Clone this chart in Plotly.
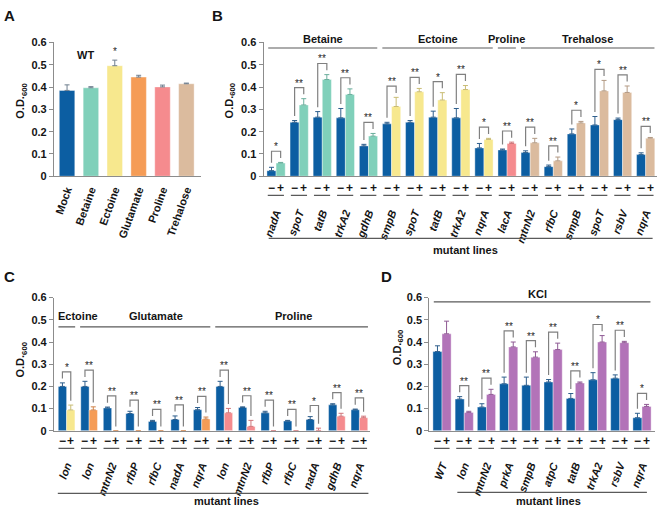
import plotly.graph_objects as go

FIG_W, FIG_H = 660, 513
FONT = "Liberation Sans, Arial, Helvetica, sans-serif"

# ---------------- data ----------------
# Panel A (WT)
a_categories = ["Mock", "Betaine", "Ectoine", "Glutamate", "Proline", "Trehalose"]
a_values = [0.385, 0.397, 0.496, 0.445, 0.401, 0.415]
a_errors = [0.025, 0.005, 0.025, 0.008, 0.008, 0.003]
a_signif = ["", "", "*", "", "", ""]

# Panel B
b_genes = ["nadA", "spoT", "tatB", "trkA2", "gdhB",
           "smpB", "spoT", "tatB", "trkA2", "nqrA",
           "lacA",
           "mtnN2", "rfbC", "smpB", "spoT", "rsbV", "nqrA"]
b_osmolyte = ["Betaine"] * 5 + ["Ectoine"] * 5 + ["Proline"] + ["Trehalose"] * 6
b_minus = [0.025, 0.242, 0.265, 0.262, 0.136, 0.235, 0.242, 0.265, 0.262, 0.127,
           0.118, 0.106, 0.043, 0.190, 0.230, 0.254, 0.097]
b_minus_err = [0.015, 0.008, 0.025, 0.042, 0.007, 0.007, 0.008, 0.027, 0.042, 0.020,
               0.004, 0.008, 0.007, 0.022, 0.038, 0.007, 0.008]
b_plus = [0.059, 0.320, 0.434, 0.367, 0.180, 0.313, 0.379, 0.342, 0.389, 0.165,
          0.147, 0.150, 0.069, 0.239, 0.383, 0.376, 0.171]
b_plus_err = [0.003, 0.028, 0.022, 0.025, 0.012, 0.041, 0.015, 0.033, 0.018, 0.005,
              0.006, 0.020, 0.017, 0.007, 0.047, 0.029, 0.003]
b_signif = ["*", "**", "**", "**", "**", "**", "**", "*", "**", "*",
            "**", "**", "**", "*", "*", "**", "**"]

# Panel C
c_genes = ["lon", "lon", "mtnN2", "rfbP", "rfbC", "nadA", "nqrA",
           "lon", "mtnN2", "rfbP", "rfbC", "nadA", "gdhB", "nqrA"]
c_osmolyte = ["Ectoine"] + ["Glutamate"] * 6 + ["Proline"] * 7
c_minus = [0.200, 0.200, 0.103, 0.078, 0.042, 0.051, 0.095,
           0.200, 0.105, 0.081, 0.044, 0.051, 0.117, 0.095]
c_minus_err = [0.016, 0.023, 0.004, 0.010, 0.005, 0.016, 0.010,
               0.023, 0.003, 0.007, 0.003, 0.013, 0.005, 0.003]
c_plus = [0.094, 0.094, 0.0, 0.0, 0.0, 0.0, 0.053,
          0.081, 0.020, 0.0, 0.0, 0.002, 0.066, 0.059]
c_plus_err = [0.022, 0.014, 0.0, 0.0, 0.0, 0.0, 0.009,
              0.020, 0.027, 0.0, 0.0, 0.010, 0.013, 0.007]
c_signif = ["*", "**", "**", "**", "**", "**", "**",
            "**", "**", "**", "**", "*", "**", "**"]

# Panel D (KCl)
d_genes = ["WT", "lon", "mtnN2", "prkA", "smpB", "atpC", "tatB", "trkA2", "rsbV", "nqrA"]
d_osmolyte = ["KCl"] * 10
d_minus = [0.357, 0.143, 0.107, 0.212, 0.205, 0.220, 0.146, 0.230, 0.237, 0.059]
d_minus_err = [0.026, 0.011, 0.015, 0.030, 0.037, 0.011, 0.022, 0.032, 0.015, 0.020]
d_plus = [0.437, 0.083, 0.164, 0.378, 0.332, 0.366, 0.215, 0.400, 0.397, 0.110]
d_plus_err = [0.057, 0.005, 0.023, 0.022, 0.024, 0.029, 0.005, 0.029, 0.006, 0.009]
d_signif = ["", "**", "**", "**", "**", "**", "**", "*", "**", "*"]

y_ticks = [0, 0.1, 0.2, 0.3, 0.4, 0.5, 0.6]
y_ticktext = ["0", "0.1", "0.2", "0.3", "0.4", "0.5", "0.6"]

# ---------------- styles ----------------
BLUE = "#0c5ea2"
COLORS = {"Mock": BLUE, "Betaine": "#80d0ba", "Ectoine": "#f7e88e", "Glutamate": "#f59c56",
          "Proline": "#f58b8e", "Trehalose": "#dbbb9e", "KCl": "#b273b8"}
ERR_COLORS = {"Mock": "#2f5f8c", "Betaine": "#6aae9c", "Ectoine": "#c9bc74", "Glutamate": "#d08249",
              "Proline": "#d0767a", "Trehalose": "#b39a84", "KCl": "#8f5a94"}
AXIS = "#8c8c8c"
LINE = "#5a5a5a"
BRACKET = "#808080"
TXT = "#141414"
STAR = "#222222"


def px_x(p):
    return p / FIG_W


def px_y(p):
    return 1 - p / FIG_H


def err_list(vals):
    return [v if v > 0 else None for v in vals]


fig = go.Figure()
layout = dict(width=FIG_W, height=FIG_H, autosize=False, margin=dict(l=0, r=0, t=0, b=0, pad=0),
              paper_bgcolor="white", plot_bgcolor="white", showlegend=False,
              barmode="overlay", font=dict(family=FONT, color=TXT))
annotations = []
shapes = []


def star_annotation(text, x, y, xref, yref, yshift):
    return dict(text=text, x=x, y=y, xref=xref, yref=yref, showarrow=False,
                xanchor="center", yanchor="bottom", yshift=yshift, opacity=0.99,
                font=dict(family=FONT, size=10, color=STAR))


def add_axes(n, xdom, ydom, xr, ticktext, italic, standoff, title_xy):
    xs = "" if n == 1 else str(n)
    layout["xaxis" + xs] = dict(
        domain=[px_x(xdom[0]), px_x(xdom[1])], range=list(xr), anchor="y" + xs,
        showline=True, linecolor=AXIS, linewidth=1, ticks="", showgrid=False, zeroline=False,
        tickmode="array", tickvals=list(range(len(ticktext))), ticktext=ticktext,
        tickangle=-70, ticklabelstandoff=standoff,
        tickfont=dict(family=FONT, size=11, color=TXT, weight="bold",
                      style="italic" if italic else "normal"))
    layout["yaxis" + xs] = dict(
        domain=[px_y(ydom[1]), px_y(ydom[0])], range=[0, 0.6005], anchor="x" + xs,
        showline=True, linecolor=AXIS, linewidth=1, ticks="outside", ticklen=4, tickcolor=AXIS,
        tickmode="array", tickvals=y_ticks, ticktext=y_ticktext, showgrid=False, zeroline=False,
        tickfont=dict(family=FONT, size=11, color=TXT, weight="bold"))
    annotations.append(dict(text="<b>O.D.<sub>600</sub></b>", x=px_x(title_xy[0]), y=px_y(title_xy[1]),
                            xref="paper", yref="paper", showarrow=False, textangle=-90,
                            xanchor="center", yanchor="middle",
                            font=dict(family=FONT, size=11, color=TXT)))
    return "x" + xs, "y" + xs


def pair_panel(n, genes, osm, minus, minus_err, plus, plus_err, signif, cfg):
    xref, yref = add_axes(n, cfg["xdom"], cfg["ydom"], cfg["xr"], genes, True,
                          cfg["standoff"], cfg["title"])
    bw = cfg["bw"]
    idx = list(range(len(genes)))
    fig.add_trace(go.Bar(x=idx, y=minus, width=bw, offset=-bw, xaxis=xref, yaxis=yref,
                         marker=dict(color=BLUE, line=dict(color="white", width=0.4)),
                         error_y=dict(type="data", symmetric=False, array=err_list(minus_err),
                                      arrayminus=[0] * len(idx), color=ERR_COLORS["Mock"],
                                      thickness=1, width=2.5)))
    seen = []
    for o in osm:
        if o not in seen:
            seen.append(o)
    for o in seen:
        sel = [i for i in idx if osm[i] == o]
        fig.add_trace(go.Bar(x=sel, y=[plus[i] for i in sel], width=bw, offset=0,
                             xaxis=xref, yaxis=yref,
                             marker=dict(color=COLORS[o], line=dict(color="white", width=0.4)),
                             error_y=dict(type="data", symmetric=False,
                                          array=err_list([plus_err[i] for i in sel]),
                                          arrayminus=[0] * len(sel), color=ERR_COLORS[o],
                                          thickness=1, width=2.5)))
    # significance brackets
    for i in idx:
        if not signif[i]:
            continue
        xl, xr_ = i - bw / 2, i + bw / 2
        tl = minus[i] + minus_err[i]
        tr = plus[i] + plus_err[i]
        top = max(tl, tr) + 0.05
        shapes.append(dict(type="path", xref=xref, yref=yref,
                           path=f"M {xl},{tl + 0.02} L {xl},{top} L {xr_},{top} L {xr_},{tr + 0.02}",
                           line=dict(color=BRACKET, width=1.2)))
        annotations.append(star_annotation(signif[i], i, top, xref, yref, -3))
    # minus / plus labels and short lines
    for i in idx:
        for sgn, txt in ((-1, "\u2212"), (1, "+")):
            annotations.append(dict(text=f"<b>{txt}</b>", x=i + sgn * bw / 2, y=px_y(cfg["pm_y"]),
                                    xref=xref, yref="paper", showarrow=False, xanchor="center",
                                    yanchor="middle", font=dict(family=FONT, size=12, color=TXT)))
        shapes.append(dict(type="line", xref=xref, yref="paper", x0=i - 0.36, x1=i + 0.34,
                           y0=px_y(cfg["short_y"]), y1=px_y(cfg["short_y"]),
                           line=dict(color=LINE, width=1.2)))
    # group headers
    groups = []
    for i, o in enumerate(osm):
        if groups and groups[-1][0] == o:
            groups[-1][2] = i
        else:
            groups.append([o, i, i])
    for k, (o, i0, i1) in enumerate(groups):
        x0 = max(i0 - 0.4, cfg["xr"][0] + 0.2)
        x1 = min(i1 + 0.38, cfg["xr"][1] - 0.1)
        shapes.append(dict(type="line", xref=xref, yref="paper", x0=x0, x1=x1,
                           y0=px_y(cfg["head_line_y"]), y1=px_y(cfg["head_line_y"]),
                           line=dict(color=LINE, width=1.2)))
        tx = cfg["head_text_x"][k] if cfg.get("head_text_x") else (x0 + x1) / 2
        annotations.append(dict(text=f"<b>{o}</b>", x=tx, y=px_y(cfg["head_text_y"]), xref=xref,
                                yref="paper", showarrow=False, xanchor="center", yanchor="middle",
                                font=dict(family=FONT, size=11, color=TXT)))
    # mutant lines
    shapes.append(dict(type="line", xref=xref, yref="paper", x0=cfg["long_x"][0], x1=cfg["long_x"][1],
                       y0=px_y(cfg["long_y"]), y1=px_y(cfg["long_y"]),
                       line=dict(color=LINE, width=1.2)))
    annotations.append(dict(text="<b>mutant lines</b>", x=cfg["ml_x"], y=px_y(cfg["ml_y"]), xref=xref,
                            yref="paper", showarrow=False, xanchor="center", yanchor="middle",
                            font=dict(family=FONT, size=11, color=TXT)))


# ---------------- Panel A ----------------
xa, ya = add_axes(1, (53, 200), (37.3, 174.3), (-0.55, 5.6), a_categories, False, 2, (20, 97))
fig.add_trace(go.Bar(x=list(range(len(a_categories))), y=a_values, width=0.65, xaxis=xa, yaxis=ya,
                     marker=dict(color=[COLORS[c] for c in a_categories],
                                 line=dict(color="white", width=0.4)),
                     error_y=dict(type="data", symmetric=False, array=a_errors,
                                  arrayminus=[0] * len(a_values), color="#6f7f8f",
                                  thickness=1, width=2.5)))
for i, s in enumerate(a_signif):
    if s:
        annotations.append(star_annotation(s, i, a_values[i] + a_errors[i], xa, ya, 1))
annotations.append(dict(text="<b>WT</b>", x=px_x(74), y=px_y(42), xref="paper", yref="paper",
                        showarrow=False, font=dict(family=FONT, size=11, color=TXT)))

# ---------------- Panel B ----------------
pair_panel(2, b_genes, b_osmolyte, b_minus, b_minus_err, b_plus, b_plus_err, b_signif,
           dict(xdom=(263, 657), ydom=(37.3, 174.3), xr=(-0.54, 16.49), bw=0.395, standoff=25,
                title=(229, 97), pm_y=186, short_y=194, head_line_y=43, head_text_y=33.5,
                long_x=(-0.32, 16.3), long_y=238, ml_x=8.2, ml_y=250))

# ---------------- Panel C ----------------
pair_panel(3, c_genes, c_osmolyte, c_minus, c_minus_err, c_plus, c_plus_err, c_signif,
           dict(xdom=(53, 370), ydom=(298.5, 435), xr=(-0.563, 13.49), bw=0.37, standoff=23,
                title=(20, 362), pm_y=445, short_y=453, head_line_y=328.5, head_text_y=317.5,
                head_text_x=[0.49, 3.98, 10.08],
                long_x=(-0.39, 13.4), long_y=499, ml_x=7.1, ml_y=506.5))

# ---------------- Panel D ----------------
pair_panel(4, d_genes, d_osmolyte, d_minus, d_minus_err, d_plus, d_plus_err, d_signif,
           dict(xdom=(429, 655), ydom=(298.5, 435), xr=(-0.57, 9.585), bw=0.41, standoff=23,
                title=(397, 350), pm_y=445, short_y=453, head_line_y=303, head_text_y=295,
                head_text_x=[4.31],
                long_x=(0.69, 9.22), long_y=498, ml_x=4.78, ml_y=506.5))

# panel letters
for letter, (lx, ly) in {"A": (9, 10), "B": (217, 10), "C": (9, 277), "D": (386, 277)}.items():
    annotations.append(dict(text=f"<b>{letter}</b>", x=px_x(lx), y=px_y(ly), xref="paper", yref="paper",
                            showarrow=False, xanchor="center", yanchor="middle",
                            font=dict(family=FONT, size=15, color=TXT)))

layout["annotations"] = annotations
layout["shapes"] = shapes
fig.update_layout(**layout)
# the page's default 8px body margin would push the 660x513 figure out of the window
fig.write_html("out.html",
               config={"displayModeBar": False, "staticPlot": True},
               post_script="document.body.style.margin='0px';document.body.style.overflow='hidden';")
